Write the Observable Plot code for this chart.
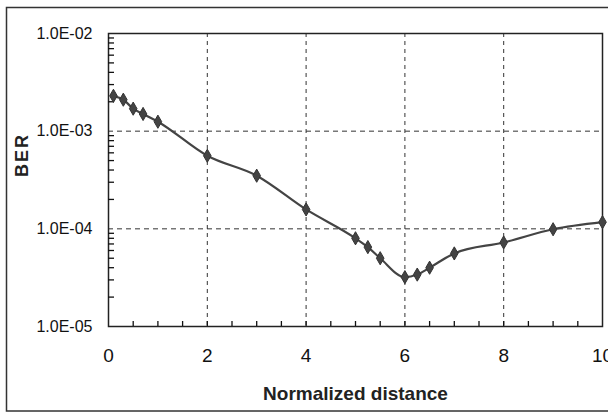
<!DOCTYPE html>
<html>
<head>
<meta charset="utf-8">
<script src="https://cdn.jsdelivr.net/npm/d3@7"></script>
<script src="https://cdn.jsdelivr.net/npm/@observablehq/plot@0.6"></script>
<style>
  html, body { margin: 0; padding: 0; background: #fff; }
  #chart { width: 608px; height: 413px; position: relative; }
  svg { font-family: "Liberation Sans", Arial, sans-serif; }
</style>
</head>
<body>
<div id="chart"></div>
<script>
// Data
const distance = [0.1, 0.3, 0.5, 0.7, 1, 2, 3, 4, 5, 5.25, 5.5, 6, 6.25, 6.5, 7, 8, 9, 10];
const ber = [2.3e-3, 2.1e-3, 1.7e-3, 1.5e-3, 1.25e-3, 5.6e-4, 3.5e-4, 1.58e-4, 8.0e-5, 6.5e-5, 5.0e-5, 3.2e-5, 3.4e-5, 4.0e-5, 5.6e-5, 7.25e-5, 9.9e-5, 1.17e-4];

const yTicks = [1e-5, 1e-4, 1e-3, 1e-2];
const yTickLabels = ["1.0E-05", "1.0E-04", "1.0E-03", "1.0E-02"];
const xTicks = [0, 2, 4, 6, 8, 10];
const xMinorTicks = [0.5, 1, 1.5, 2, 2.5, 3, 3.5, 4, 4.5, 5, 5.5, 6, 6.5, 7, 7.5, 8, 8.5, 9, 9.5];
const yMinorMultipliers = [2, 3, 4, 5, 6, 7, 8, 9];
const yDecades = [1e-5, 1e-4, 1e-3];
const yMinorTicks = yDecades.flatMap(d => yMinorMultipliers.map(m => m * d));
const xGrid = [2, 4, 6, 8];
const yGrid = [1e-4, 1e-3];

const data = distance.map((x, i) => ({x, y: ber[i]}));

const W = 608, H = 413, ML = 108, MT = 33, MR = 6, MB = 87;
const plotW = W - ML - MR, plotH = H - MT - MB;

const chart = Plot.plot({
  width: W,
  height: H,
  marginLeft: ML,
  marginTop: MT,
  marginRight: MR,
  marginBottom: MB,
  style: {background: "#fff", color: "#111", fontFamily: '"Liberation Sans", Arial, sans-serif'},
  x: {domain: [0, 10]},
  y: {type: "log", domain: [1e-5, 1e-2]},
  marks: [
    Plot.ruleX(xGrid, {x: d => d, stroke: "#333", strokeWidth: 1, strokeDasharray: "4,4"}),
    Plot.ruleY(yGrid, {y: d => d, stroke: "#333", strokeWidth: 1, strokeDasharray: "5,4"}),
    Plot.axisY(yTicks, {tickSize: 0, tickPadding: 16, fontSize: 16, label: null,
      tickFormat: d => yTickLabels[yTicks.indexOf(d)]}),
    Plot.axisX(xTicks, {tickSize: 0, tickPadding: 22, fontSize: 19, label: null}),
    Plot.frame({stroke: "#222", strokeWidth: 1.5}),
    Plot.tickY(yMinorTicks, {y: d => d, insetRight: plotW - 6, stroke: "#111", strokeWidth: 1.3}),
    Plot.tickX(xMinorTicks, {x: d => d, insetTop: plotH - 5, stroke: "#111", strokeWidth: 1.3}),
    Plot.line(data, {x: "x", y: "y", stroke: "#444", strokeWidth: 2.2, curve: "monotone-x"}),
    Plot.dot(data, {x: "x", y: "y", symbol: "diamond", r: 4, fill: "#444", stroke: "#333", strokeWidth: 1}),
    Plot.text(["Normalized distance"], {frameAnchor: "bottom", dy: 73, lineAnchor: "bottom",
      fontSize: 19, fontWeight: "bold", fill: "#222"}),
    Plot.text(["BER"], {frameAnchor: "left", dx: -86, dy: -3, rotate: -90, lineAnchor: "middle",
      fontSize: 18, fontWeight: "bold", fill: "#222"})
  ]
});

const svg = d3.select(chart);
svg.selectAll("text").filter(function () { return this.textContent === "BER"; })
  .style("letter-spacing", "2px");
svg.append("rect")
  .attr("x", 6.5).attr("y", 7.5)
  .attr("width", 640).attr("height", 403.5)
  .attr("fill", "none").attr("stroke", "#333").attr("stroke-width", 1.5);

document.getElementById("chart").appendChild(chart);
</script>
</body>
</html>
